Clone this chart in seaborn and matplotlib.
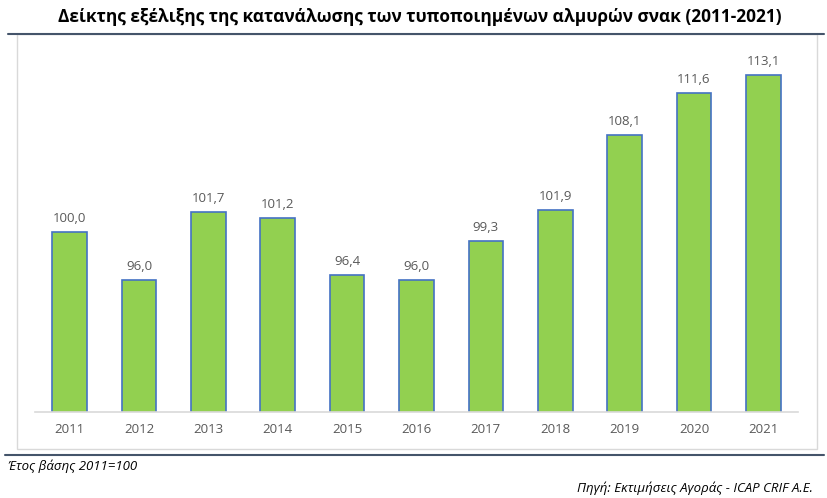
import matplotlib
matplotlib.use('Agg')
import pandas as pd
import matplotlib.pyplot as plt
import seaborn as sns
from matplotlib.lines import Line2D
from matplotlib.patches import Rectangle

# Data
years = ['2011', '2012', '2013', '2014', '2015', '2016', '2017', '2018', '2019', '2020', '2021']
index_values = [100.0, 96.0, 101.7, 101.2, 96.4, 96.0, 99.3, 101.9, 108.1, 111.6, 113.1]

title_text = 'Δείκτης εξέλιξης της κατανάλωσης των τυποποιημένων αλμυρών σνακ (2011-2021)'
base_note = 'Έτος βάσης 2011=100'
source_note = 'Πηγή: Εκτιμήσεις Αγοράς - ICAP CRIF A.E.'

df = pd.DataFrame({'year': years, 'value': index_values})

sns.set_style('white')
plt.rcParams['font.family'] = ['Open Sans', 'DejaVu Sans']

fig = plt.figure(figsize=(8.27, 4.98), dpi=100)
ax = fig.add_axes([0.0423, 0.1727, 0.9227, 0.7217])

sns.barplot(x='year', y='value', data=df, color='#92D050', width=0.5,
            edgecolor='#4472C4', linewidth=1.2, saturation=1, ax=ax)

# Value labels with comma decimal separator
ax.bar_label(ax.containers[0], labels=[f'{v:.1f}'.replace('.', ',') for v in index_values],
             padding=5, fontsize=9.5, color='#595959')

ax.set_ylim(85, 115)
ax.set_xlim(-0.5, len(years) - 0.5)
ax.set_xlabel('')
ax.set_ylabel('')
ax.set_yticks([])
for side in ['top', 'left', 'right']:
    ax.spines[side].set_visible(False)
ax.spines['bottom'].set_color('#D9D9D9')
ax.spines['bottom'].set_linewidth(1.2)
ax.tick_params(axis='x', length=0, pad=8, labelsize=9.5, labelcolor='#595959')

# Chart frame and separator lines
W, H = 827, 498
fig.patches.append(Rectangle((17 / W, 1 - 449 / H), 800 / W, 415 / H, transform=fig.transFigure,
                             fill=False, edgecolor='#D9D9D9', linewidth=1.0, zorder=0))
fig.add_artist(Line2D([8 / W, 824 / W], [1 - 34 / H, 1 - 34 / H], color='#44546A', linewidth=1.5))
fig.add_artist(Line2D([5 / W, 824 / W], [1 - 455 / H, 1 - 455 / H], color='#44546A', linewidth=1.5))

# Title and notes
fig.text(420 / W, 1 - 17 / H, title_text, ha='center', va='center', fontsize=12.4,
         fontweight='bold', color='#000000')
fig.text(8 / W, 1 - 466 / H, base_note, ha='left', va='center', fontsize=9.5,
         style='italic', color='#000000')
fig.text(813 / W, 1 - 488 / H, source_note, ha='right', va='center', fontsize=9.5,
         style='italic', color='#000000')

fig.savefig('out.png', dpi=100)
